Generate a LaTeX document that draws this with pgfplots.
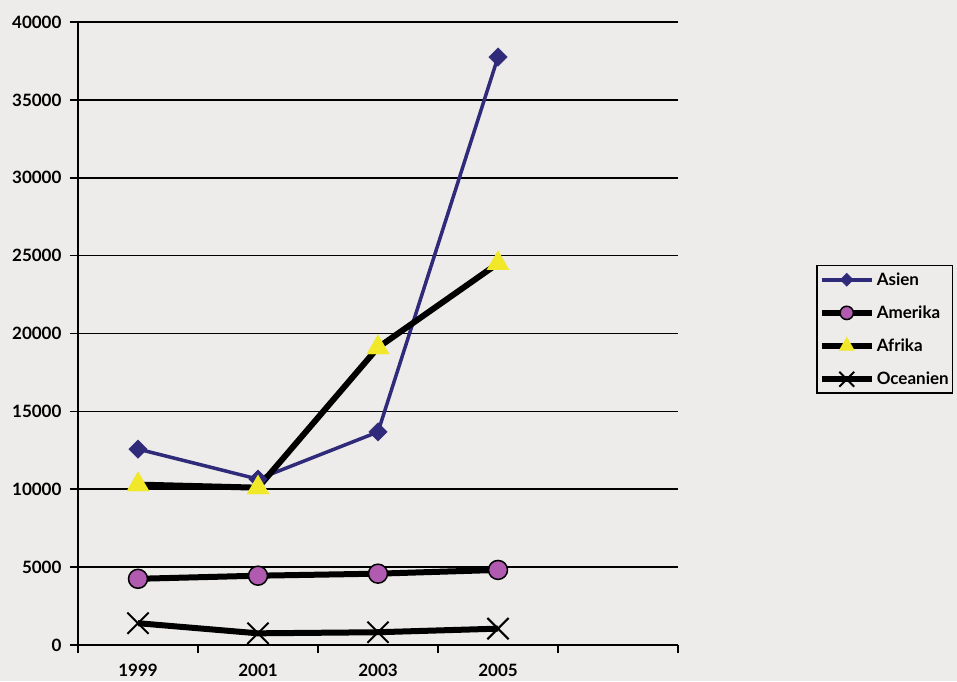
\documentclass[border=0pt]{standalone}
\usepackage{fontspec}
\setmainfont{Lato}
\usepackage{pgfplots}
\pgfplotsset{compat=1.18}
\definecolor{bg}{RGB}{237,236,234}
\definecolor{asien}{RGB}{47,42,122}
\definecolor{amerika}{RGB}{176,90,176}
\definecolor{afrika}{RGB}{240,232,40}
\begin{document}
\begin{tikzpicture}[x=1pt,y=1pt]
\fill[bg] (-78,-36) rectangle (879,645);
\path[use as bounding box] (-78,-36) rectangle (879,645);
\begin{axis}[
    at={(0,0)}, anchor=south west,
    scale only axis,
    width=600pt, height=623pt,
    xmin=0, xmax=5, ymin=0, ymax=40000,
    axis x line=bottom, axis y line=left,
    axis line style={-, line width=2pt},
    xtick={0,1,2,3,4,5}, xticklabels={},
    extra x ticks={0.5,1.5,2.5,3.5},
    extra x tick labels={1999,2001,2003,2005},
    extra x tick style={major tick length=0pt, tick label style={yshift=-16pt}},
    ytick={0,5000,...,40000},
    scaled y ticks=false,
    tick align=outside,
    major tick length=8pt,
    tick style={black, line width=1.6pt},
    ymajorgrids,
    grid style={black, line width=1.6pt},
    ticklabel style={font=\fontsize{17}{19}\selectfont\bfseries},
    yticklabel style={/pgf/number format/1000 sep={}, xshift=-5pt},
    /pgf/number format/assume math mode=true,
    legend style={at={(rel axis cs:1.23,0.61)}, anchor=north west,
        draw=black, line width=1.5pt, fill=bg,
        font=\fontsize{17}{19}\selectfont\bfseries,
        row sep=15pt, inner xsep=2pt, inner ysep=5pt,
        cells={anchor=west}},
    legend image code/.code={\draw[mark repeat=2,mark phase=2,
        every mark/.append style={scale=0.7}]
        plot coordinates {(0pt,0pt) (25pt,0pt) (50pt,0pt)};},
    clip=false,
]
\addplot[asien, line width=3.5pt, mark=square*, mark size=6.5pt,
    mark options={rotate=45, solid, fill=asien, draw=asien, line width=0.5pt}]
    coordinates {(0.5,12580) (1.5,10650) (2.5,13680) (3.5,37750)};
\addlegendentry{Asien}
\addplot[black, line width=6pt, mark=*, mark size=9.5pt,
    mark options={fill=amerika, draw=black, line width=1.5pt}]
    coordinates {(0.5,4250) (1.5,4450) (2.5,4580) (3.5,4820)};
\addlegendentry{Amerika}
\addplot[black, line width=6pt, mark=triangle*, mark size=13pt,
    mark options={fill=afrika, draw=afrika, line width=0.1pt}]
    coordinates {(0.5,10300) (1.5,10100) (2.5,19100) (3.5,24500)};
\addlegendentry{Afrika}
\addplot[black, line width=6pt, mark=x, mark size=15pt,
    mark options={black, line width=2pt}]
    coordinates {(0.5,1400) (1.5,750) (2.5,820) (3.5,1050)};
\addlegendentry{Oceanien}
\end{axis}
\end{tikzpicture}
\end{document}
